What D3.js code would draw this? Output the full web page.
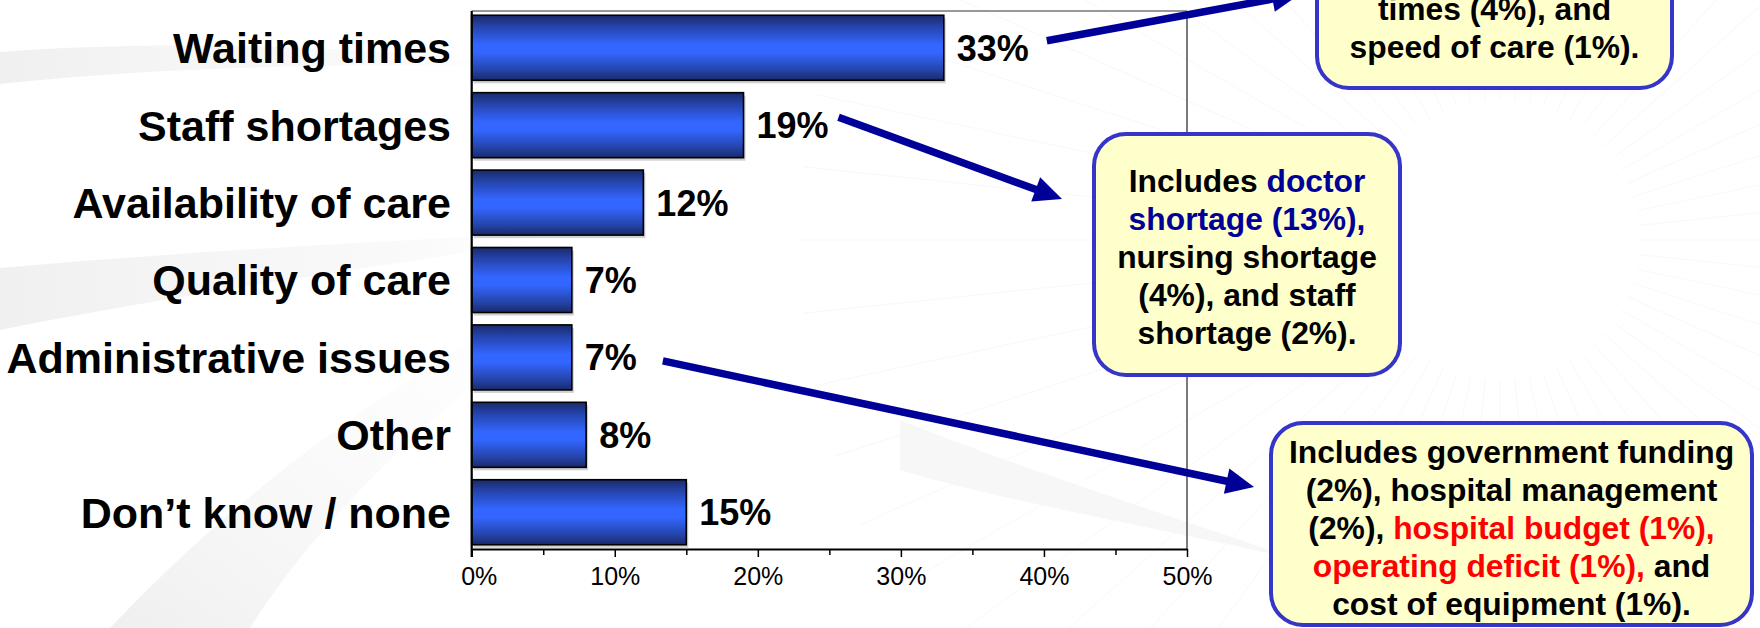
<!DOCTYPE html>
<html>
<head>
<meta charset="utf-8">
<script src="https://cdn.jsdelivr.net/npm/d3@7"></script>
<style>
  html, body { margin: 0; padding: 0; background: #ffffff; }
  svg { display: block; font-family: "Liberation Sans", Arial, Helvetica, sans-serif; }
</style>
</head>
<body>
<svg id="chart" width="1760" height="628"></svg>
<script>
// Responses: main health care problem
const categories = ["Waiting times", "Staff shortages", "Availability of care", "Quality of care",
                    "Administrative issues", "Other", "Don\u2019t know / none"];
const values = [33, 19, 12, 7, 7, 8, 15];
const majorTicks = [0, 10, 20, 30, 40, 50];
const minorTicks = [5, 15, 25, 35, 45];

// Call-out boxes: each line is a list of [text, colour] runs
const waitingNote = [
  [["times (4%), and", "#000"]],
  [["speed of care (1%).", "#000"]]
];
const staffNote = [
  [["Includes ", "#000"], ["doctor", "#000099"]],
  [["shortage (13%),", "#000099"]],
  [["nursing shortage", "#000"]],
  [["(4%), and staff", "#000"]],
  [["shortage (2%).", "#000"]]
];
const adminNote = [
  [["Includes government funding", "#000"]],
  [["(2%), hospital management", "#000"]],
  [["(2%), ", "#000"], ["hospital budget (1%),", "#ff0000"]],
  [["operating deficit (1%), ", "#ff0000"], ["and", "#000"]],
  [["cost of equipment (1%).", "#000"]]
];

const W = 1760, H = 628;
const svg = d3.select("#chart");
const defs = svg.append("defs");

// ---- soft template background ----
const swoosh = defs.append("linearGradient").attr("id", "swoosh")
  .attr("x1", 0).attr("y1", 0).attr("x2", 1).attr("y2", 0);
swoosh.append("stop").attr("offset", "0%").attr("stop-color", "#ececec").attr("stop-opacity", 0.8);
swoosh.append("stop").attr("offset", "70%").attr("stop-color", "#f2f2f2").attr("stop-opacity", 0.4);
swoosh.append("stop").attr("offset", "100%").attr("stop-color", "#ffffff").attr("stop-opacity", 0);

const swooshV = defs.append("linearGradient").attr("id", "swooshV")
  .attr("x1", 0).attr("y1", 1).attr("x2", 1).attr("y2", 0);
swooshV.append("stop").attr("offset", "0%").attr("stop-color", "#ebebeb").attr("stop-opacity", 0.8);
swooshV.append("stop").attr("offset", "100%").attr("stop-color", "#ffffff").attr("stop-opacity", 0);

const bg = svg.append("g").attr("class", "background");
// faint radial rays on the right
const rayCenter = [1500, 240];
d3.range(0, 360, 6).forEach(a => {
  const r = a * Math.PI / 180;
  bg.append("line")
    .attr("x1", rayCenter[0] + Math.cos(r) * 140).attr("y1", rayCenter[1] + Math.sin(r) * 140)
    .attr("x2", rayCenter[0] + Math.cos(r) * 700).attr("y2", rayCenter[1] + Math.sin(r) * 700)
    .attr("stroke", "#f8f8f8").attr("stroke-width", 1);
});
bg.append("path")
  .attr("d", "M0,52 C150,40 380,44 560,70 C420,62 180,64 0,84 Z")
  .attr("fill", "url(#swoosh)");
bg.append("path")
  .attr("d", "M0,268 C200,250 420,240 600,230 C420,262 200,290 0,330 Z")
  .attr("fill", "url(#swoosh)");
bg.append("path")
  .attr("d", "M110,628 C260,470 420,360 640,250 C470,380 330,500 250,628 Z")
  .attr("fill", "url(#swooshV)");
bg.append("path")
  .attr("d", "M900,420 C1000,460 1120,500 1300,560 C1120,520 1000,500 900,470 Z")
  .attr("fill", "#f4f4f4").attr("opacity", 0.7);

// ---- scales ----
const x = d3.scaleLinear().domain([0, 50]).range([471.7, 1187]);
const y = d3.scaleBand().domain(categories).range([11, 549])
  .paddingInner(0.16).paddingOuter(0.055);

// bar gradient: dark edges, bright blue core
const grad = defs.append("linearGradient").attr("id", "barGrad")
  .attr("x1", 0).attr("y1", 0).attr("x2", 0).attr("y2", 1);
[["0%", "#1a2a6a"], ["18%", "#2544ad"], ["45%", "#3366ff"], ["58%", "#3366ff"],
 ["85%", "#2443a8"], ["100%", "#1a2a6a"]].forEach(([o, c]) =>
  grad.append("stop").attr("offset", o).attr("stop-color", c));

// ---- plot frame ----
const frame = svg.append("g");
frame.append("line").attr("x1", x(0)).attr("x2", x(50)).attr("y1", 11).attr("y2", 11)
  .attr("stroke", "#333").attr("stroke-width", 1.2);
frame.append("line").attr("x1", x(50)).attr("x2", x(50)).attr("y1", 11).attr("y2", 549)
  .attr("stroke", "#222").attr("stroke-width", 1.2);

// ---- bars ----
const data = categories.map((c, i) => ({ c, v: values[i] }));
const bars = svg.append("g");
bars.selectAll("rect.shadow").data(data).join("rect").attr("class", "shadow")
  .attr("x", x(0) + 2).attr("y", d => y(d.c) + 3)
  .attr("width", d => x(d.v) - x(0)).attr("height", y.bandwidth())
  .attr("fill", "#9a9a9a").attr("opacity", 0.45);
bars.selectAll("rect.bar").data(data).join("rect").attr("class", "bar")
  .attr("x", x(0)).attr("y", d => y(d.c))
  .attr("width", d => x(d.v) - x(0)).attr("height", y.bandwidth())
  .attr("fill", "url(#barGrad)").attr("stroke", "#000").attr("stroke-width", 1.6);

// ---- axes ----
const xAxis = svg.append("g").attr("transform", "translate(0,549)")
  .call(d3.axisBottom(x).tickValues(majorTicks).tickFormat(d => d + "%")
    .tickSize(8).tickSizeOuter(0));
xAxis.select(".domain").attr("stroke", "#000").attr("stroke-width", 2.2);
xAxis.selectAll(".tick line").attr("stroke", "#000").attr("stroke-width", 1.5);
xAxis.selectAll(".tick text")
  .attr("y", 36).attr("dy", 0)
  .attr("dx", d => d === 0 ? 7 : 0)
  .attr("font-size", 25).attr("fill", "#000").attr("font-family", "Liberation Sans, Arial, sans-serif");

const minorAxis = svg.append("g").attr("transform", "translate(0,549)")
  .call(d3.axisBottom(x).tickValues(minorTicks).tickFormat("").tickSize(6).tickSizeOuter(0));
minorAxis.select(".domain").remove();
minorAxis.selectAll(".tick line").attr("stroke", "#000").attr("stroke-width", 1.5);

svg.append("line").attr("x1", x(0)).attr("x2", x(0)).attr("y1", 11).attr("y2", 557)
  .attr("stroke", "#000").attr("stroke-width", 2.2);

// ---- category labels ----
svg.append("g").selectAll("text").data(data).join("text")
  .attr("x", 451).attr("y", d => y(d.c) + y.bandwidth() / 2)
  .attr("text-anchor", "end").attr("dy", "0.36em")
  .attr("font-size", 43).attr("font-weight", "bold").attr("fill", "#000")
  .text(d => d.c);

// ---- value labels ----
svg.append("g").selectAll("text").data(data).join("text")
  .attr("x", d => x(d.v) + 13).attr("y", d => y(d.c) + y.bandwidth() / 2)
  .attr("text-anchor", "start").attr("dy", "0.36em")
  .attr("font-size", 36).attr("font-weight", "bold").attr("fill", "#000")
  .text(d => d.v + "%");

// ---- arrows ----
function arrow(x1, y1, tx, ty) {
  const dx = tx - x1, dy = ty - y1, len = Math.hypot(dx, dy);
  const ux = dx / len, uy = dy / len, nx = -uy, ny = ux;
  const hl = 28, hw = 13;
  const bx = tx - ux * hl, by = ty - uy * hl;
  const g = svg.append("g");
  g.append("line").attr("x1", x1).attr("y1", y1)
    .attr("x2", tx - ux * (hl - 4)).attr("y2", ty - uy * (hl - 4))
    .attr("stroke", "#000099").attr("stroke-width", 7.5);
  g.append("path")
    .attr("d", `M${tx},${ty} L${bx + nx * hw},${by + ny * hw} L${bx - nx * hw},${by - ny * hw} Z`)
    .attr("fill", "#000099");
}
const mid = c => y(c) + y.bandwidth() / 2;
arrow(x(values[0]) + 103, mid(categories[0]) - 7, 1300, -6);
arrow(x(values[1]) + 95, mid(categories[1]) - 8, 1062, 199);
arrow(x(values[4]) + 91, mid(categories[4]) + 3.5, 1254, 487);

// ---- call-out boxes ----
function callout(bx, by, bw, bh, lines, firstBaseline, pitch) {
  const g = svg.append("g");
  g.append("rect").attr("x", bx).attr("y", by).attr("width", bw).attr("height", bh)
    .attr("rx", 32).attr("ry", 32)
    .attr("fill", "#ffffcc").attr("stroke", "#3535c8").attr("stroke-width", 4);
  lines.forEach((runs, i) => {
    const t = g.append("text")
      .attr("x", bx + bw / 2).attr("y", firstBaseline + i * pitch)
      .attr("text-anchor", "middle").attr("font-size", 31.8).attr("font-weight", "bold");
    runs.forEach(([s, c]) => t.append("tspan").attr("fill", c).text(s));
  });
}
callout(1317, -100, 355, 188, waitingNote, 20, 38);
callout(1094, 134, 306, 241, staffNote, 191.5, 38.2);
callout(1271, 423, 481, 202, adminNote, 463, 38);
</script>
</body>
</html>
